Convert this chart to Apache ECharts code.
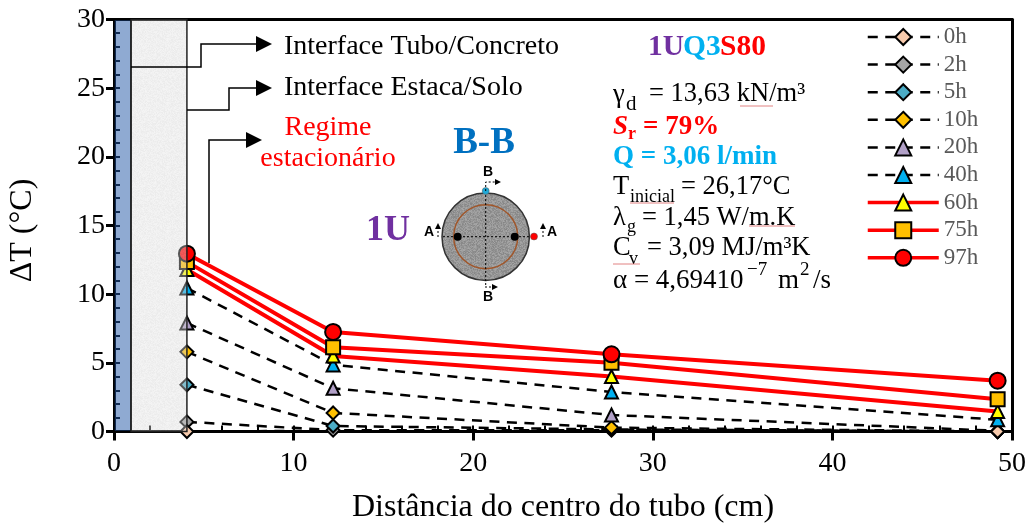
<!DOCTYPE html>
<html><head><meta charset="utf-8">
<style>html,body{margin:0;background:#fff}#c{width:1030px;height:526px}</style>
<script src="https://cdn.jsdelivr.net/npm/echarts@6/dist/echarts.min.js"></script>
</head><body><div id="c"></div>
<script>
const distances = [4.06, 12.2, 27.7, 49.2];
const h0  = [0, 0.05, 0.05, 0];
const h2  = [0.7, 0.1, 0.1, 0];
const h5  = [3.4, 0.4, 0.15, 0];
const h10 = [5.8, 1.35, 0.28, 0];
const h20 = [7.9, 3.15, 1.2, 0.05];
const h40 = [10.45, 4.85, 2.88, 0.85];
const h60 = [11.8, 5.5, 4.0, 1.45];
const h75 = [12.35, 6.13, 5.0, 2.35];
const h97 = [12.95, 7.25, 5.62, 3.7];
const tubeBand = [0, 0.95];
const soilBand = [0.95, 4.06];
const yRange = [0, 30];
const legendNames = ['0h','2h','5h','10h','20h','40h','60h','75h','97h'];

const SERIF = '"Liberation Serif","Times New Roman",serif';
const SANS = '"Liberation Sans",Arial,sans-serif';

function noise(size, base, amp, alpha) {
  const c = document.createElement('canvas'); c.width = c.height = size;
  const g = c.getContext('2d');
  for (let y = 0; y < size; y++) for (let x = 0; x < size; x++) {
    const s = Math.sin(x * 12.9898 + y * 78.233) * 43758.5453;
    const v = Math.round(base + (s - Math.floor(s) - 0.5) * amp);
    g.fillStyle = `rgba(${v},${v},${v},${alpha})`;
    g.fillRect(x, y, 1, 1);
  }
  return c;
}
const soilTex = noise(64, 216, 24, 0.4);
const discTex = noise(64, 150, 34, 1);

function line(name, data, symbol, size, fill, solid, hidden) {
  hidden = hidden || [];
  return {
    name, type: 'line',
    data: distances.map((d, i) => hidden.includes(i) ? {value: [d, data[i]], symbol: 'none'} : [d, data[i]]),
    symbol, symbolSize: size, showSymbol: true,
    lineStyle: solid ? {color: '#ff0000', width: 4} : {color: '#000', width: 2.5, type: [10, 7.5]},
    itemStyle: {color: fill, borderColor: '#000', borderWidth: 2},
    emphasis: {disabled: true}, clip: false, z: 3
  };
}
function band(name, range, fill, stroke) {
  return {
    type: 'custom', name, silent: true, z: 10, clip: false, xAxisIndex: 0, yAxisIndex: 0,
    data: [[range[0], yRange[0], range[1], yRange[1]]],
    encode: {x: [0, 2], y: [1, 3]},
    renderItem(p, api) {
      const a = api.coord([api.value(0), api.value(3)]);
      const b = api.coord([api.value(2), api.value(1)]);
      return {type: 'rect', shape: {x: a[0], y: a[1], width: b[0] - a[0], height: b[1] - a[1]},
        style: {fill, stroke, lineWidth: 1.5}};
    }
  };
}
function T(x, y, text, size, o) {
  o = o || {};
  return {type: 'text', x, y: y + 1, z: 30, silent: true, style: {text, fill: o.fill || '#000',
    font: `${o.style || ''} ${o.weight || ''} ${size}px ${o.family || SERIF}`,
    textAlign: o.align || 'left', textVerticalAlign: 'middle', verticalAlign: 'middle', align: o.align || 'left'}};
}
function P(points, o) {
  o = o || {};
  return {type: 'polyline', z: o.z || 30, silent: true, shape: {points},
    style: {stroke: o.stroke || '#000', lineWidth: o.w || 1.5, lineDash: o.dash, fill: null}};
}
function H(points, fill, z) {
  return {type: 'polygon', z: z || 30, silent: true, shape: {points}, style: {fill: fill || '#000'}};
}
function C(cx, cy, r, fill, stroke, w) {
  return {type: 'circle', z: 30, silent: true, shape: {cx, cy, r}, style: {fill, stroke, lineWidth: w || 0}};
}

const gfx = [
  P([[131,67],[201,67],[201,44],[258,44]]), H([[256,36],[272,44],[256,52]]),
  P([[187,110],[229,110],[229,88],[258,88]]), H([[256,80],[272,88],[256,96]]),
  P([[209,263],[209,140],[248,140]], {z: 1}), H([[246,132],[262,140],[246,148]]),
  T(284,46,'Interface Tubo/Concreto',28), T(284,87,'Interface Estaca/Solo',28),
  T(328,127,'Regime',28,{fill:'#ff0000',align:'center'}), T(328,158,'estacionário',28,{fill:'#ff0000',align:'center'}),
  T(484,142,'B-B',37,{weight:'bold',fill:'#0070c0',align:'center'}),
  T(388,230,'1U',36,{weight:'bold',fill:'#7030a0',align:'center'}),
  C(485.7,236.7,43.7,{image:discTex,repeat:'repeat'},'#333',1.5),
  C(485.7,236.7,32,null,'#a0562a',1.5),
  P([[443,236.7],[530,236.7]],{w:1,dash:[2,2]}), P([[485.7,195],[485.7,287]],{w:1,dash:[2,2]}),
  C(457.7,236.7,4,'#000'), C(514.7,236.7,4,'#000'),
  C(534,236.5,3.5,'#ff0000','#555',.5), C(485.7,191,3.5,'#1fa9d8','#555',.5),
  P([[485.7,191],[485.7,182],[497,182]],{w:1,dash:[2,2]}), H([[495,179],[501,182],[495,185]]),
  P([[485,287],[494,287]],{w:1,dash:[2,2]}), H([[492,284],[498,287],[492,290]]),
  P([[438,237],[438,227]],{w:1,dash:[2,2]}), H([[435,229],[438,223],[441,229]]),
  P([[543,237],[543,227]],{w:1,dash:[2,2]}), H([[540,229],[543,223],[546,229]]),
  T(488,171,'B',14,{family:SANS,weight:'bold',align:'center'}), T(488,296,'B',14,{family:SANS,weight:'bold',align:'center'}),
  T(429,231,'A',14,{family:SANS,weight:'bold',align:'center'}), T(552,231,'A',14,{family:SANS,weight:'bold',align:'center'}),
  T(648,46,'1U',29.5,{weight:'bold',fill:'#7030a0'}), T(683,46,'Q3',29.5,{weight:'bold',fill:'#00b0f0'}), T(720,46,'S80',29.5,{weight:'bold',fill:'#ff0000'}),
  T(613,94,'γ',26.5), T(626,103,'d',21), T(649,93,'= 13,63 kN/m³',26.5),
  T(613,126,'S',27,{weight:'bold',style:'italic',fill:'#ff0000'}), T(628,133,'r',18,{weight:'bold',fill:'#ff0000'}), T(643,126,'= 79%',27,{weight:'bold',fill:'#ff0000'}),
  T(613,156,'Q = 3,06 l/min',27,{weight:'bold',fill:'#00b0f0'}),
  T(613,186,'T',26.5), T(630,196,'inicial',18), T(681,186,'= 26,17°C',26.5),
  T(613,217,'λ',26.5), T(627,226,'g',18), T(642,217,'= 1,45 W/m.K',26.5),
  T(613,247,'C',26.5), T(629,258,'v',18), T(647,247,'= 3,09 MJ/m³K',26.5),
  T(613,280,'α = 4,69410',27), T(747,269,'−7',19), T(778,280,'m',27), T(800,269,'2',19), T(813,280,'/s',27),
  P([[740,106],[773,106]],{w:1,stroke:'rgba(215,90,90,.75)'}), P([[630,203],[674,203]],{w:1,stroke:'rgba(215,90,90,.75)'}),
  P([[749,226],[795,226]],{w:1,stroke:'rgba(215,90,90,.75)'}), P([[613,264],[640,264]],{w:1,stroke:'rgba(215,90,90,.75)'})
];

const axisFont = {fontFamily: SERIF, fontSize: 28, color: '#000'};
const axisLn = {show: true, onZero: false, lineStyle: {color: '#000', width: 3}};
const chart = echarts.init(document.getElementById('c'), null, {renderer: 'canvas'});
chart.setOption({
  animation: false, backgroundColor: '#fff',
  grid: {left: 114, right: 18, top: 19.5, bottom: 94.5, show: false, outerBoundsMode: 'none', containLabel: false},
  xAxis: [
    {type: 'value', min: 0, max: 50, interval: 10, name: 'Distância do centro do tubo (cm)', nameLocation: 'middle', nameGap: 60,
     nameTextStyle: {fontFamily: SERIF, fontSize: 32, color: '#000'}, axisLine: axisLn,
     axisTick: {show: true, length: 9, lineStyle: {color: '#000', width: 3}}, axisLabel: {...axisFont, margin: 18}, splitLine: {show: false}},
    {type: 'value', min: 0, max: 50, interval: 2, position: 'bottom', axisLine: {show: false},
     axisTick: {show: true, inside: true, length: 6, lineStyle: {color: '#000', width: 2}}, axisLabel: {show: false}, splitLine: {show: false}},
    {type: 'value', min: 0, max: 50, position: 'top', axisLine: axisLn, axisTick: {show: false}, axisLabel: {show: false}, splitLine: {show: false}}
  ],
  yAxis: [
    {type: 'value', min: 0, max: 30, interval: 5, name: 'ΔT (°C)', nameLocation: 'middle', nameGap: 75, nameRotate: 90,
     nameTextStyle: {fontFamily: SERIF, fontSize: 32, color: '#000', padding: [0, 10, 0, 0]}, axisLine: axisLn,
     axisTick: {show: true, length: 8, lineStyle: {color: '#000', width: 3}}, axisLabel: {...axisFont, margin: 9}, splitLine: {show: false}},
    {type: 'value', min: 0, max: 30, interval: 1, position: 'left', axisLine: {show: false},
     axisTick: {show: true, inside: true, length: 6, lineStyle: {color: '#000', width: 2}}, axisLabel: {show: false}, splitLine: {show: false}},
    {type: 'value', min: 0, max: 30, position: 'right', axisLine: axisLn, axisTick: {show: false}, axisLabel: {show: false}, splitLine: {show: false}}
  ],
  legend: {
    left: 861, top: 20.5, orient: 'vertical', itemWidth: 71, itemHeight: 20, itemGap: 4.6,
    data: legendNames.map((name, i) => i > 5 ? {name, lineStyle: {width: 3.5}} : {name, lineStyle: {width: 2.5}}),
    textStyle: {fontFamily: SERIF, fontSize: 23, color: '#595959'}, selectedMode: false
  },
  series: [
    line('2h', h2, 'diamond', 13, '#a5a5a5'),
    line('5h', h5, 'diamond', 13, '#4bacc6'),
    line('10h', h10, 'diamond', 13, '#ffc000'),
    line('20h', h20, 'triangle', 13, '#b1a0c7', false, [3]),
    line('0h', h0, 'diamond', 13, '#f8cbad', false, [1, 2]),
    line('40h', h40, 'triangle', 13, '#00b0f0'),
    line('60h', h60, 'triangle', 13, '#ffff00', true),
    line('75h', h75, 'rect', 14, '#ffc000', true),
    line('97h', h97, 'circle', 16, '#ff0000', true),
    band('tube', tubeBand, 'rgba(31,85,165,0.5)', '#000'),
    band('soil', soilBand, {image: soilTex, repeat: 'repeat'}, '#222')
  ],
  graphic: gfx
});
</script></body></html>
